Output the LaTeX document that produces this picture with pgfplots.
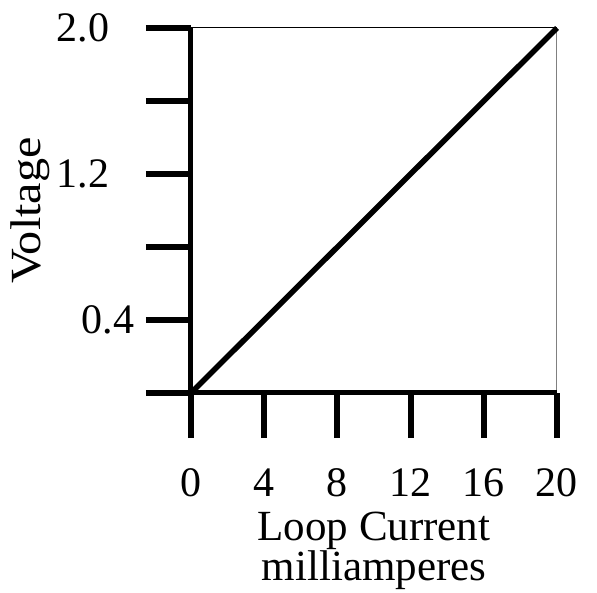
\documentclass[border=0pt]{standalone}
\usepackage{fontspec}
\setmainfont{Liberation Serif}
\usepackage{graphicx}
\usepackage{pgfplots}
\pgfplotsset{compat=1.18}

\begin{document}
\begin{tikzpicture}
  \useasboundingbox (-191pt,-200pt) rectangle (406pt,393pt);
  \begin{axis}[
      scale only axis,
      width=366pt,
      height=365pt,
      xmin=0, xmax=20,
      ymin=0, ymax=2.0,
      clip=false,
      axis line style={draw=none},
      tick pos=left,
      tick align=outside,
      major tick length=45pt,
      every tick/.style={black, line width=6pt},
      xtick={0,4,...,20},
      ytick={0,0.4,0.8,1.2,1.6,2.0},
      yticklabels={,{0.4\kern-25pt},,1.2,,2.0},
      xticklabel shift=27pt,
      yticklabel shift=33pt,
      /pgf/number format/assume math mode=true,
      ticklabel style={font=\fontsize{42}{42}\selectfont},
      label style={font=\fontsize{43}{35}\selectfont},
      xlabel={Loop Current\\milliamperes},
      xlabel style={align=center, yshift=-8pt},
      ylabel={\scalebox{1.12}[1]{Voltage}},
    ]
    \draw[line width=1pt] (rel axis cs:0,1) -- (rel axis cs:1,1);
    \draw[line width=1pt, gray] (rel axis cs:1,1) -- (rel axis cs:1,0);
    \draw[line width=5pt] (rel axis cs:0,1) -- (rel axis cs:0,0) -- (rel axis cs:1,0);
    \addplot[black, line width=5.5pt, no marks] coordinates {(0,0) (20,2.0)};
  \end{axis}
\end{tikzpicture}
\end{document}
